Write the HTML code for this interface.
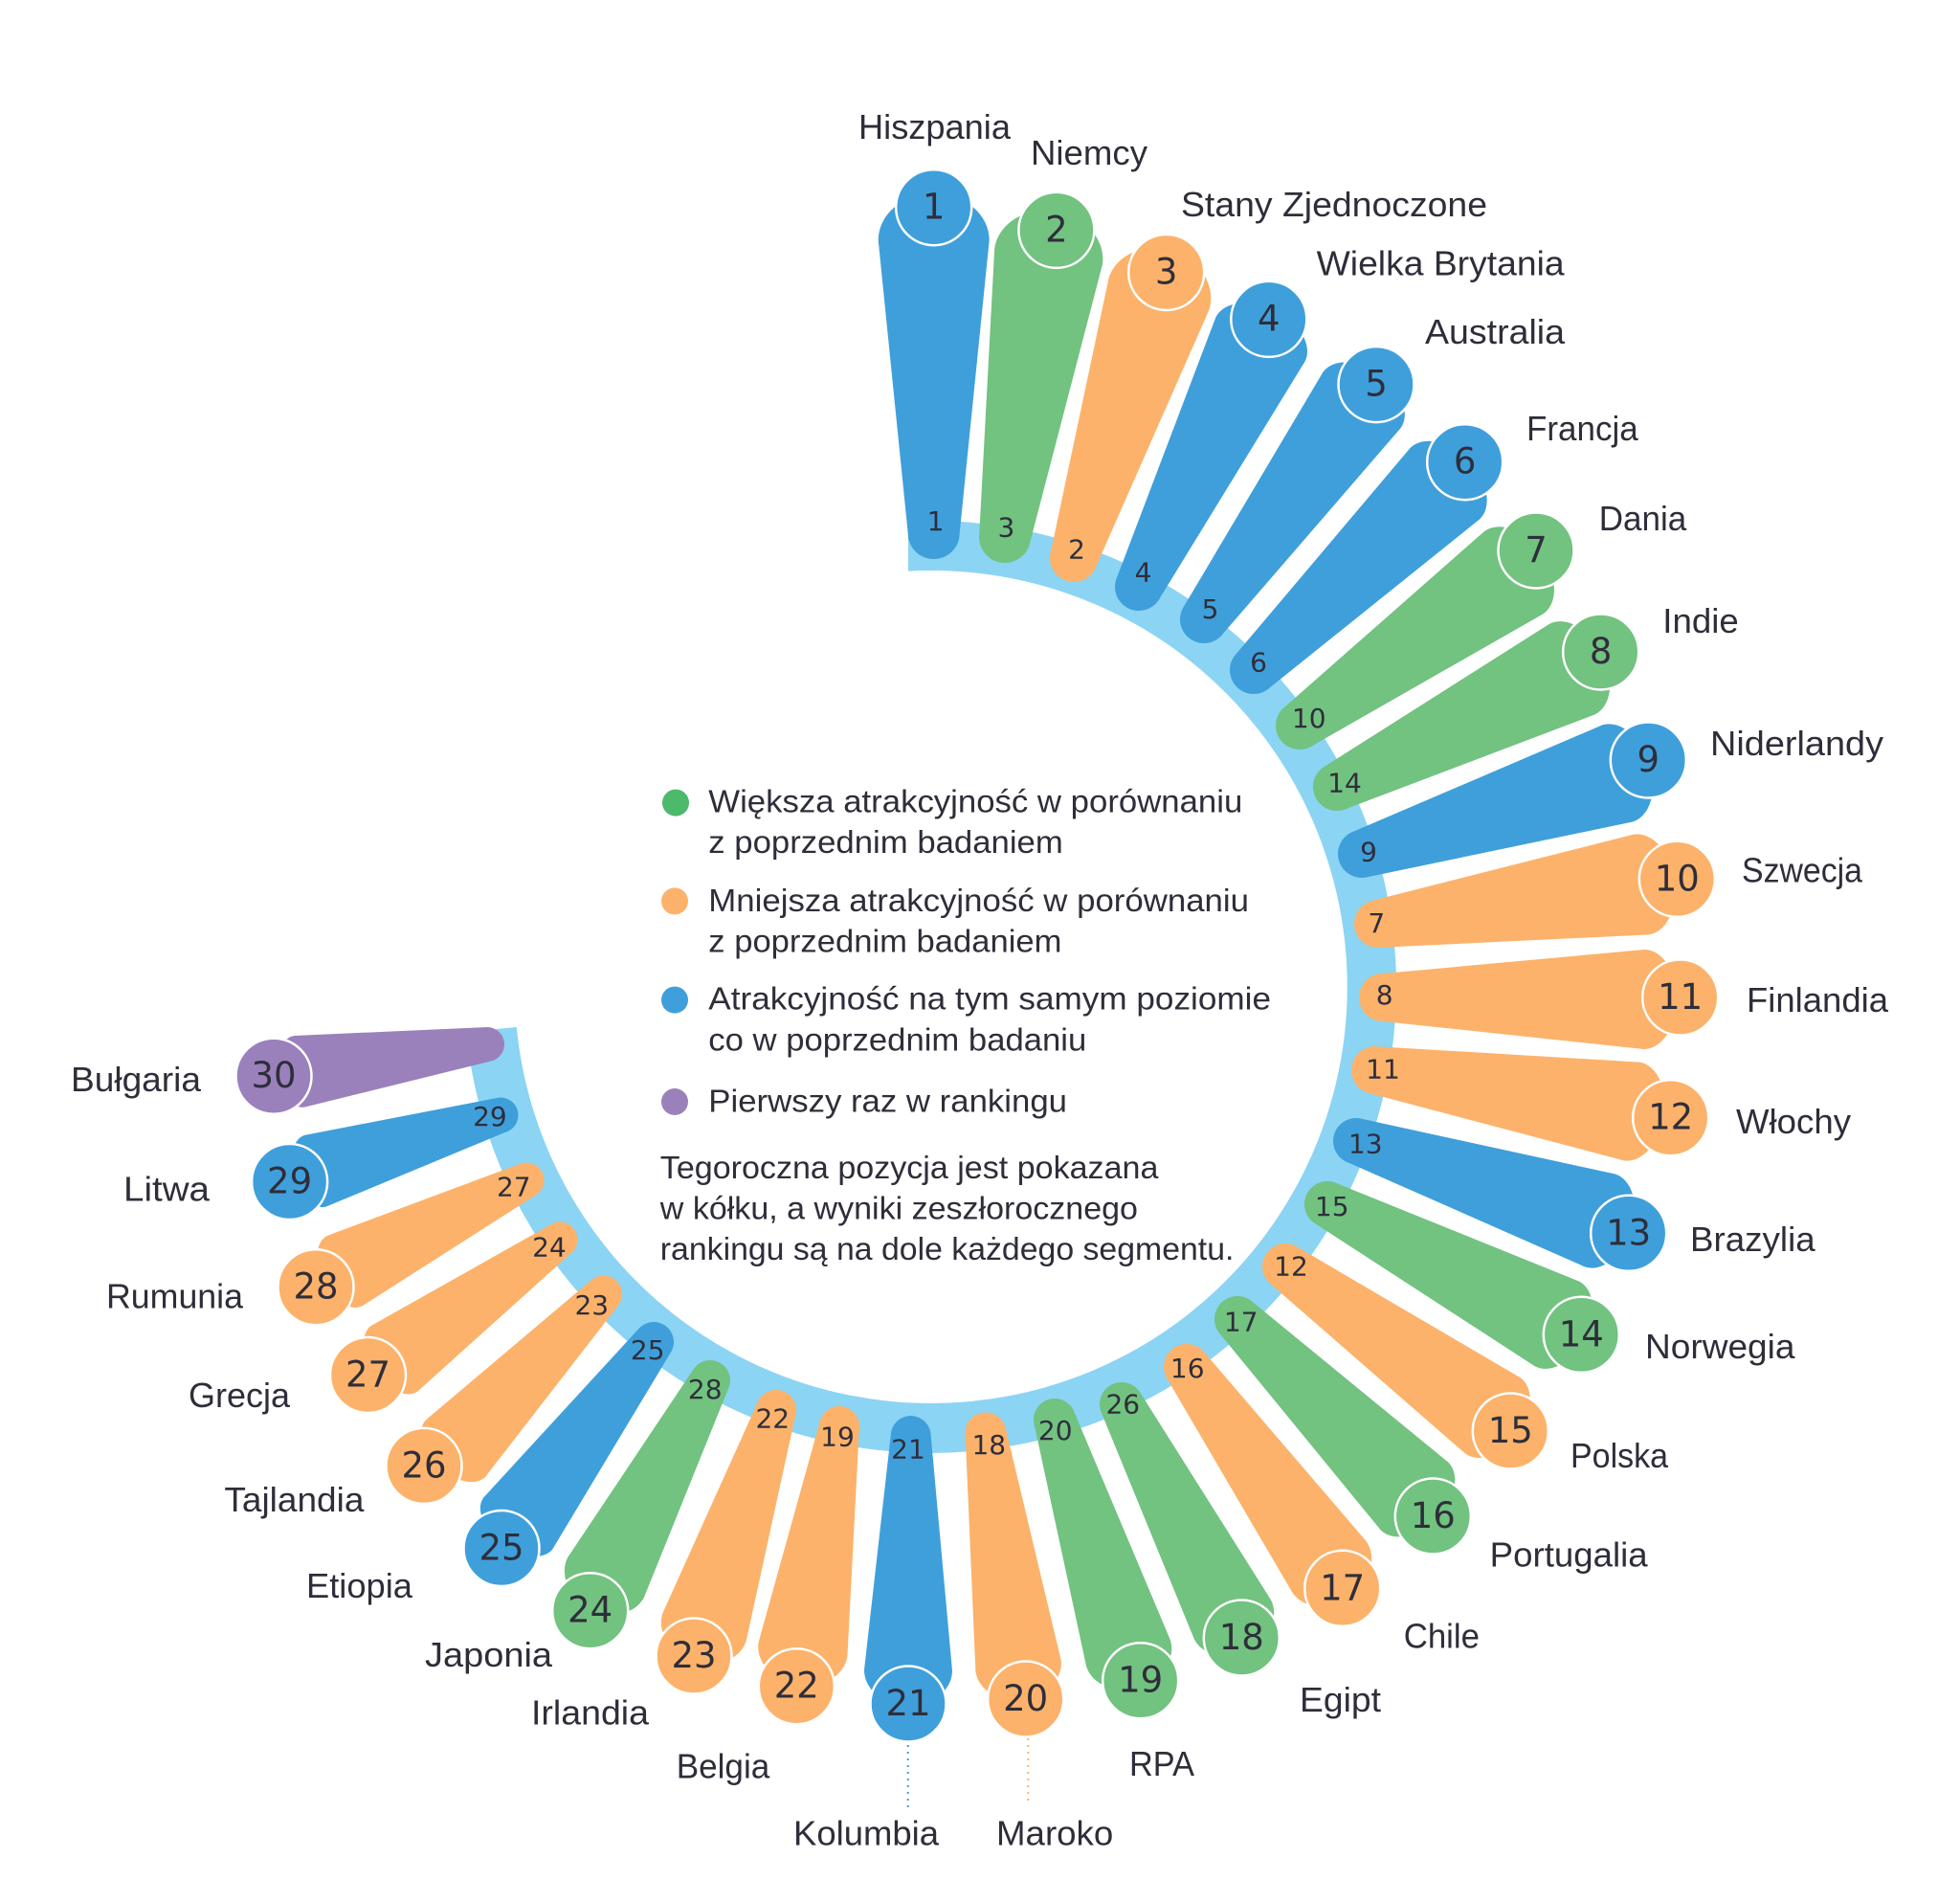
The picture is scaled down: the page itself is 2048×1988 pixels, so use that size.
<!DOCTYPE html>
<html lang="pl"><head><meta charset="utf-8"><title>Ranking</title>
<style>
html,body{margin:0;padding:0;background:#fff}
svg{display:block}
.b{fill:#3f9fdb}.g{fill:#72c280}.o{fill:#fcb26a}.p{fill:#9b81bb}
.c{stroke:#fff;stroke-width:2.5}
text{fill:#2e2e3a}
.n{font:37px "DejaVu Sans",sans-serif;text-anchor:middle}
.s{font:28px "DejaVu Sans",sans-serif;text-anchor:middle}
.l{font:36px "Liberation Sans",sans-serif}
.t{font:33px "Liberation Sans","Noto Sans CJK SC",sans-serif}
</style></head><body>
<svg xmlns="http://www.w3.org/2000/svg" width="2048" height="1988" viewBox="0 0 2048 1988">
<rect width="2048" height="1988" fill="#fff"/>
<path d="M949 596.6A435 435 0 1 1 539.8 1073L487.3 1078A487 487 0 1 0 949 544.5Z" fill="#8bd4f4"/>

<path class="b" transform="translate(975.7 557)" d="M-27 0L-58 -306A58 49 0 0 1 58 -306L27 0A27 27 0 0 1 -27 0Z"/>
<path class="g" transform="translate(1050 561) rotate(8.83)" d="M-27 0L-57 -296.5A57 48 0 0 1 57 -296.5L27 0A27 27 0 0 1 -27 0Z"/>
<path class="o" transform="translate(1122 583) rotate(17.87)" d="M-25 0L-55 -290A55 47 0 0 1 55 -290L25 0A25 25 0 0 1 -25 0Z"/>
<path class="b" transform="translate(1190 613) rotate(26.16)" d="M-25 0L-52 -288A52 34 0 0 1 52 -288L25 0A25 25 0 0 1 -25 0Z"/>
<path class="b" transform="translate(1258 647) rotate(35.77)" d="M-25 0L-50 -282.2A50 33 0 0 1 50 -282.2L25 0A25 25 0 0 1 -25 0Z"/>
<path class="b" transform="translate(1310 700) rotate(45.73)" d="M-25 0L-52 -279.3A52 34 0 0 1 52 -279.3L25 0A25 25 0 0 1 -25 0Z"/>
<path class="g" transform="translate(1358 758) rotate(54.46)" d="M-25 0L-53 -275.3A53 35 0 0 1 53 -275.3L25 0A25 25 0 0 1 -25 0Z"/>
<path class="g" transform="translate(1397 822) rotate(63.43)" d="M-25 0L-53 -275A53 35 0 0 1 53 -275L25 0A25 25 0 0 1 -25 0Z"/>
<path class="b" transform="translate(1423 892) rotate(72.54)" d="M-25 0L-53 -280A53 35 0 0 1 53 -280L25 0A25 25 0 0 1 -25 0Z"/>
<path class="o" transform="translate(1440 965) rotate(81.52)" d="M-25 0L-53 -278A53 35 0 0 1 53 -278L25 0A25 25 0 0 1 -25 0Z"/>
<path class="o" transform="translate(1445 1042) rotate(90.42)" d="M-25 0L-52 -273A52 34 0 0 1 52 -273L25 0A25 25 0 0 1 -25 0Z"/>
<path class="o" transform="translate(1437 1118) rotate(99.11)" d="M-25 0L-52 -271.4A52 34 0 0 1 52 -271.4L25 0A25 25 0 0 1 -25 0Z"/>
<path class="b" transform="translate(1417 1192) rotate(108.03)" d="M-24 0L-51 -268.2A51 34 0 0 1 51 -268.2L24 0A24 24 0 0 1 -24 0Z"/>
<path class="g" transform="translate(1387 1258) rotate(117.51)" d="M-24 0L-50 -270.6A50 33 0 0 1 50 -270.6L24 0A24 24 0 0 1 -24 0Z"/>
<path class="o" transform="translate(1343 1323) rotate(125.71)" d="M-24 0L-49 -267.3A49 32 0 0 1 49 -267.3L24 0A24 24 0 0 1 -24 0Z"/>
<path class="g" transform="translate(1293 1378) rotate(135)" d="M-24 0L-50 -261.6A50 33 0 0 1 50 -261.6L24 0A24 24 0 0 1 -24 0Z"/>
<path class="o" transform="translate(1240 1428) rotate(144.51)" d="M-24 0L-47 -256.7A47 38 0 0 1 47 -256.7L24 0A24 24 0 0 1 -24 0Z"/>
<path class="g" transform="translate(1172 1467) rotate(152.73)" d="M-23 0L-45 -253A45 36 0 0 1 45 -253L23 0A23 23 0 0 1 -23 0Z"/>
<path class="g" transform="translate(1102 1483) rotate(162.49)" d="M-22 0L-46 -255.9A46 37 0 0 1 46 -255.9L22 0A22 22 0 0 1 -22 0Z"/>
<path class="o" transform="translate(1030 1497) rotate(172.04)" d="M-21.5 0L-45 -245.4A45 36 0 0 1 45 -245.4L21.5 0A21.5 21.5 0 0 1 -21.5 0Z"/>
<path class="b" transform="translate(951.7 1500) rotate(180.63)" d="M-21 0L-46 -245A46 37 0 0 1 46 -245L21 0A21 21 0 0 1 -21 0Z"/>
<path class="o" transform="translate(877 1490) rotate(189.26)" d="M-21 0L-47 -236A47 38 0 0 1 47 -236L21 0A21 21 0 0 1 -21 0Z"/>
<path class="o" transform="translate(811 1473) rotate(198.29)" d="M-21 0L-46 -239A46 37 0 0 1 46 -239L21 0A21 21 0 0 1 -21 0Z"/>
<path class="g" transform="translate(742 1442) rotate(207.88)" d="M-21 0L-45 -233A45 36 0 0 1 45 -233L21 0A21 21 0 0 1 -21 0Z"/>
<path class="b" transform="translate(683 1402) rotate(216.8)" d="M-21 0L-45 -236.5A45 27 0 0 1 45 -236.5L21 0A21 21 0 0 1 -21 0Z"/>
<path class="o" transform="translate(630.5 1352) rotate(223.8)" d="M-19.5 0L-43 -223A43 26 0 0 1 43 -223L19.5 0A19.5 19.5 0 0 1 -19.5 0Z"/>
<path class="o" transform="translate(585 1295) rotate(234.3)" d="M-18.5 0L-42 -213A42 25 0 0 1 42 -213L18.5 0A18.5 18.5 0 0 1 -18.5 0Z"/>
<path class="o" transform="translate(550 1233) rotate(243.5)" d="M-18.5 0L-41 -212A41 25 0 0 1 41 -212L18.5 0A18.5 18.5 0 0 1 -18.5 0Z"/>
<path class="b" transform="translate(523 1165) rotate(253.25)" d="M-18.5 0L-39 -202A39 23 0 0 1 39 -202L18.5 0A18.5 18.5 0 0 1 -18.5 0Z"/>
<path class="p" transform="translate(509 1091) rotate(261.8)" d="M-18 0L-37.7 -198.3A37.7 23 0 0 1 37.7 -198.3L18 0A18 18 0 0 1 -18 0Z"/>

<circle class="c b" cx="975.7" cy="216.7" r="39.5"/>
<circle class="c g" cx="1103.9" cy="240.4" r="39.5"/>
<circle class="c o" cx="1218.7" cy="284.5" r="39.5"/>
<circle class="c b" cx="1325.8" cy="333.4" r="39.5"/>
<circle class="c b" cx="1438" cy="401.6" r="39.5"/>
<circle class="c b" cx="1530.7" cy="482.7" r="39.5"/>
<circle class="c g" cx="1605" cy="575" r="39.5"/>
<circle class="c g" cx="1672.7" cy="681" r="39.5"/>
<circle class="c b" cx="1722.3" cy="794" r="39.5"/>
<circle class="c o" cx="1752.3" cy="918.3" r="39.5"/>
<circle class="c o" cx="1755.7" cy="1042" r="39.5"/>
<circle class="c o" cx="1745.7" cy="1167.7" r="39.5"/>
<circle class="c b" cx="1701.7" cy="1288.3" r="39.5"/>
<circle class="c g" cx="1652.3" cy="1394.3" r="39.5"/>
<circle class="c o" cx="1578.3" cy="1495" r="39.5"/>
<circle class="c g" cx="1497.3" cy="1584" r="39.5"/>
<circle class="c o" cx="1402.7" cy="1659.3" r="39.5"/>
<circle class="c g" cx="1297.3" cy="1711" r="39.5"/>
<circle class="c g" cx="1191.7" cy="1755.7" r="39.5"/>
<circle class="c o" cx="1071.7" cy="1775" r="39.5"/>
<circle class="c b" cx="949" cy="1780" r="39.5"/>
<circle class="c o" cx="832.3" cy="1761.7" r="39.5"/>
<circle class="c o" cx="725" cy="1730" r="39.5"/>
<circle class="c g" cx="616.7" cy="1682.7" r="39.5"/>
<circle class="c b" cx="524" cy="1617.5" r="39.5"/>
<circle class="c o" cx="443" cy="1531.4" r="39.5"/>
<circle class="c o" cx="384.5" cy="1436.5" r="39.5"/>
<circle class="c o" cx="330" cy="1344.7" r="39.5"/>
<circle class="c b" cx="302.6" cy="1234.5" r="39.5"/>
<circle class="c p" cx="286" cy="1124.2" r="39.5"/>

<g class="n">
<text x="975.7" y="228.7">1</text><text x="1103.9" y="252.4">2</text><text x="1218.7" y="296.5">3</text><text x="1325.8" y="345.4">4</text><text x="1438" y="413.6">5</text><text x="1530.7" y="494.7">6</text><text x="1605" y="587">7</text><text x="1672.7" y="693">8</text><text x="1722.3" y="806">9</text><text x="1752.3" y="930.3">10</text><text x="1755.7" y="1054">11</text><text x="1745.7" y="1179.7">12</text><text x="1701.7" y="1300.3">13</text><text x="1652.3" y="1406.3">14</text><text x="1578.3" y="1507">15</text><text x="1497.3" y="1596">16</text><text x="1402.7" y="1671.3">17</text><text x="1297.3" y="1723">18</text><text x="1191.7" y="1767.7">19</text><text x="1071.7" y="1787">20</text><text x="949" y="1792">21</text><text x="832.3" y="1773.7">22</text><text x="725" y="1742">23</text><text x="616.7" y="1694.7">24</text><text x="524" y="1629.5">25</text><text x="443" y="1543.4">26</text><text x="384.5" y="1448.5">27</text><text x="330" y="1356.7">28</text><text x="302.6" y="1246.5">29</text><text x="286" y="1136.2">30</text>
</g>
<g class="s">
<text x="977.6" y="554">1</text><text x="1051.4" y="560.4">3</text><text x="1125" y="583.4">2</text><text x="1194.6" y="607.5">4</text><text x="1264.6" y="645.8">5</text><text x="1315" y="701.7">6</text><text x="1367.7" y="760">10</text><text x="1405" y="827.7">14</text><text x="1430" y="899.3">9</text><text x="1438.3" y="974">7</text><text x="1446.7" y="1049">8</text><text x="1445" y="1126.7">11</text><text x="1426.7" y="1204.3">13</text><text x="1391.7" y="1270">15</text><text x="1349" y="1332.7">12</text><text x="1296.7" y="1390.7">17</text><text x="1240.7" y="1439">16</text><text x="1173.3" y="1476.7">26</text><text x="1102.7" y="1504">20</text><text x="1033.3" y="1519">18</text><text x="949" y="1523.3">21</text><text x="875" y="1510.7">19</text><text x="807.3" y="1491.7">22</text><text x="736.7" y="1461">28</text><text x="676.7" y="1420">25</text><text x="618.3" y="1373">23</text><text x="573.9" y="1312.6">24</text><text x="536.8" y="1249.4">27</text><text x="511.9" y="1176">29</text>
</g>

<g class="l">
<text x="897" y="145" textLength="159" lengthAdjust="spacingAndGlyphs">Hiszpania</text>
<text x="1077" y="172" textLength="122" lengthAdjust="spacingAndGlyphs">Niemcy</text>
<text x="1234" y="226" textLength="320" lengthAdjust="spacingAndGlyphs">Stany Zjednoczone</text>
<text x="1375.6" y="287.5" textLength="259" lengthAdjust="spacingAndGlyphs">Wielka Brytania</text>
<text x="1489" y="359" textLength="146" lengthAdjust="spacingAndGlyphs">Australia</text>
<text x="1595" y="460" textLength="116.7" lengthAdjust="spacingAndGlyphs">Francja</text>
<text x="1670.7" y="554" textLength="91.6" lengthAdjust="spacingAndGlyphs">Dania</text>
<text x="1737.3" y="661" textLength="79.4" lengthAdjust="spacingAndGlyphs">Indie</text>
<text x="1787" y="789" textLength="181" lengthAdjust="spacingAndGlyphs">Niderlandy</text>
<text x="1820" y="921.7" textLength="126" lengthAdjust="spacingAndGlyphs">Szwecja</text>
<text x="1825" y="1057" textLength="148" lengthAdjust="spacingAndGlyphs">Finlandia</text>
<text x="1814" y="1184" textLength="120" lengthAdjust="spacingAndGlyphs">Włochy</text>
<text x="1766" y="1307" textLength="130.7" lengthAdjust="spacingAndGlyphs">Brazylia</text>
<text x="1719" y="1419" textLength="156.5" lengthAdjust="spacingAndGlyphs">Norwegia</text>
<text x="1641" y="1533" textLength="102" lengthAdjust="spacingAndGlyphs">Polska</text>
<text x="1556.7" y="1636.7" textLength="165" lengthAdjust="spacingAndGlyphs">Portugalia</text>
<text x="1466.7" y="1721.7" textLength="79.3" lengthAdjust="spacingAndGlyphs">Chile</text>
<text x="1358" y="1788" textLength="85" lengthAdjust="spacingAndGlyphs">Egipt</text>
<text x="1180" y="1855" textLength="68" lengthAdjust="spacingAndGlyphs">RPA</text>
<text x="1041" y="1927.3" textLength="122.3" lengthAdjust="spacingAndGlyphs">Maroko</text>
<text x="829" y="1927.3" textLength="152" lengthAdjust="spacingAndGlyphs">Kolumbia</text>
<text x="706.7" y="1857.7" textLength="97.6" lengthAdjust="spacingAndGlyphs">Belgia</text>
<text x="555" y="1801.7" textLength="123" lengthAdjust="spacingAndGlyphs">Irlandia</text>
<text x="444" y="1741" textLength="133" lengthAdjust="spacingAndGlyphs">Japonia</text>
<text x="320" y="1669" textLength="111" lengthAdjust="spacingAndGlyphs">Etiopia</text>
<text x="234.4" y="1579" textLength="146" lengthAdjust="spacingAndGlyphs">Tajlandia</text>
<text x="197" y="1470" textLength="106" lengthAdjust="spacingAndGlyphs">Grecja</text>
<text x="111" y="1366.5" textLength="143" lengthAdjust="spacingAndGlyphs">Rumunia</text>
<text x="129" y="1254.7" textLength="90" lengthAdjust="spacingAndGlyphs">Litwa</text>
<text x="74" y="1140" textLength="136" lengthAdjust="spacingAndGlyphs">Bułgaria</text>
</g>

<line x1="948.7" y1="1823" x2="948.7" y2="1888" stroke="#3f9fdb" stroke-width="2" stroke-dasharray="2 5"/>
<line x1="1074.3" y1="1816" x2="1074.3" y2="1886" stroke="#fcb26a" stroke-width="2" stroke-dasharray="2 5"/>

<circle cx="706" cy="838.6" r="14" fill="#4cb96b"/>
<circle cx="705" cy="941.4" r="14" fill="#fcb26a"/>
<circle cx="705" cy="1044.6" r="14" fill="#3f9fdb"/>
<circle cx="705" cy="1151" r="14" fill="#9b81bb"/>
<g class="t">
<text x="740.3" y="848.4" textLength="558" lengthAdjust="spacingAndGlyphs">Większa atrakcyjność w porównaniu</text>
<text x="740.3" y="891.2" textLength="370.5" lengthAdjust="spacingAndGlyphs">z poprzednim badaniem</text>
<text x="740.3" y="952" textLength="564.7" lengthAdjust="spacingAndGlyphs">Mniejsza atrakcyjność w porównaniu</text>
<text x="740.3" y="994.7" textLength="369.2" lengthAdjust="spacingAndGlyphs">z poprzednim badaniem</text>
<text x="740.3" y="1054.4" textLength="587.7" lengthAdjust="spacingAndGlyphs">Atrakcyjność na tym samym poziomie</text>
<text x="740.3" y="1097.5" textLength="395" lengthAdjust="spacingAndGlyphs">co w poprzednim badaniu</text>
<text x="740.3" y="1161.4" textLength="374.7" lengthAdjust="spacingAndGlyphs">Pierwszy raz w rankingu</text>
<text x="689.8" y="1230.9" textLength="520.6" lengthAdjust="spacingAndGlyphs">Tegoroczna pozycja jest pokazana</text>
<text x="689.8" y="1273.7" textLength="499.2" lengthAdjust="spacingAndGlyphs">w kółku, a wyniki zeszłorocznego</text>
<text x="689.8" y="1315.8" textLength="599.6" lengthAdjust="spacingAndGlyphs">rankingu są na dole każdego segmentu.</text>
</g>
</svg>
</body></html>
